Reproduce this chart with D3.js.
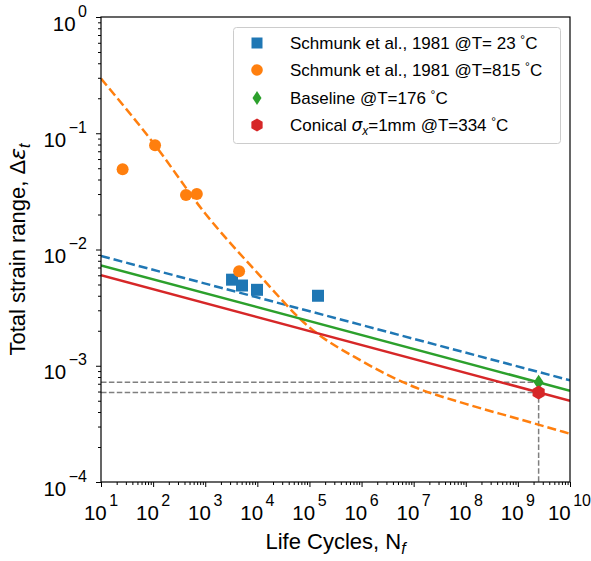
<!DOCTYPE html>
<html>
<head>
<meta charset="utf-8">
<script src="https://cdn.jsdelivr.net/npm/d3@7"></script>
<style>
body { margin: 0; background: #fff; }
text { font-family: "Liberation Sans", Arial, sans-serif; fill: #000; }
</style>
</head>
<body>
<div id="chart"></div>
<script>
// data
var schmunk23N = [3270, 5080, 9860, 146000];
var schmunk23Eps = [0.0055, 0.0049, 0.0045, 0.0040];
var schmunk815N = [26, 109, 428, 690, 4470];
var schmunk815Eps = [0.049, 0.079, 0.0294, 0.030, 0.0065];

var lineN = [1e1, 1e10];
var fit23Eps = [0.0088, 0.00075];
var baselineEps = [0.0073, 0.00061];
var conicalEps = [0.0060, 0.00050];

var fit815N = [1e1, 1e2, 1e3, 1e4, 1e5, 1e6, 1e7, 1e8, 1e9, 1e10];
var fit815Eps = [0.295, 0.083, 0.0204, 0.0063, 0.00214, 0.00110, 0.00066, 0.00047, 0.00035, 0.00026];

var pointN = 2.5e9;
var baselinePt = 0.00072;
var conicalPt = 0.00059;

var xMajor = [1e1, 1e2, 1e3, 1e4, 1e5, 1e6, 1e7, 1e8, 1e9, 1e10];
var yMajor = [1e-4, 1e-3, 1e-2, 1e-1, 1e0];
var xExp = ["1", "2", "3", "4", "5", "6", "7", "8", "9", "10"];
var yExp = ["\u22124", "\u22123", "\u22122", "\u22121", "0"];

var width = 591, height = 561;
var pLeft = 101, pTop = 17, pRight = 570, pBottom = 482;

var colors = { blue: "#1f77b4", orange: "#ff7f0e", green: "#2ca02c", red: "#d62728" };

var svg = d3.select("#chart").append("svg")
    .attr("width", width)
    .attr("height", height);

var x = d3.scaleLog().domain([1e1, 1e10]).range([pLeft, pRight]);
var y = d3.scaleLog().domain([1e-4, 1e0]).range([pBottom, pTop]);

// minor ticks 2..9 in each decade
function minors(lo, hi) {
  var out = [];
  for (var e = lo; e < hi; e++) {
    for (var k = 2; k <= 9; k++) out.push(k * Math.pow(10, e));
  }
  return out;
}

var plot = svg.append("g");

plot.append("clipPath").attr("id", "clip")
  .append("rect").attr("x", pLeft).attr("y", pTop)
  .attr("width", pRight - pLeft).attr("height", pBottom - pTop);

var g = plot.append("g").attr("clip-path", "url(#clip)");

var line = d3.line().x(function(d) { return x(d[0]); }).y(function(d) { return y(d[1]); });

// gray guide lines
g.append("path")
  .attr("d", line([[1e1, baselinePt], [pointN, baselinePt]]))
  .attr("fill", "none").attr("stroke", "#7f7f7f").attr("stroke-width", 1.5)
  .attr("stroke-dasharray", "5.5,2.4");
g.append("path")
  .attr("d", line([[1e1, conicalPt], [pointN, conicalPt], [pointN, 1e-4]]))
  .attr("fill", "none").attr("stroke", "#7f7f7f").attr("stroke-width", 1.5)
  .attr("stroke-dasharray", "5.5,2.4");

// fits
g.append("path")
  .attr("d", line(lineN.map(function(n, i) { return [n, fit23Eps[i]]; })))
  .attr("fill", "none").attr("stroke", colors.blue).attr("stroke-width", 2.5)
  .attr("stroke-dasharray", "9,4");
g.append("path")
  .attr("d", line.curve(d3.curveMonotoneX)(fit815N.map(function(n, i) { return [n, fit815Eps[i]]; })))
  .attr("fill", "none").attr("stroke", colors.orange).attr("stroke-width", 2.5)
  .attr("stroke-dasharray", "9,4");
line.curve(d3.curveLinear);
g.append("path")
  .attr("d", line(lineN.map(function(n, i) { return [n, baselineEps[i]]; })))
  .attr("fill", "none").attr("stroke", colors.green).attr("stroke-width", 2.5);
g.append("path")
  .attr("d", line(lineN.map(function(n, i) { return [n, conicalEps[i]]; })))
  .attr("fill", "none").attr("stroke", colors.red).attr("stroke-width", 2.5);

// marker shapes
function diamondPath(w, h) {
  return "M0," + (-h / 2) + "L" + (w / 2) + ",0L0," + (h / 2) + "L" + (-w / 2) + ",0Z";
}
function hexPath(r) {
  var p = [];
  for (var i = 0; i < 6; i++) {
    var a = -Math.PI / 2 + i * Math.PI / 3;
    p.push([r * Math.cos(a), r * Math.sin(a)]);
  }
  return "M" + p.join("L") + "Z";
}
function squarePath(s) {
  return "M" + (-s / 2) + "," + (-s / 2) + "h" + s + "v" + s + "h" + (-s) + "Z";
}

g.selectAll(".sq").data(schmunk23N).enter().append("path")
  .attr("d", squarePath(12))
  .attr("transform", function(d, i) { return "translate(" + x(d) + "," + y(schmunk23Eps[i]) + ")"; })
  .attr("fill", colors.blue);

g.selectAll(".ci").data(schmunk815N).enter().append("circle")
  .attr("cx", function(d) { return x(d); })
  .attr("cy", function(d, i) { return y(schmunk815Eps[i]); })
  .attr("r", 6)
  .attr("fill", colors.orange);

g.append("path").attr("d", diamondPath(10, 15))
  .attr("transform", "translate(" + x(pointN) + "," + y(baselinePt) + ")")
  .attr("fill", colors.green);
g.append("path").attr("d", hexPath(7))
  .attr("transform", "translate(" + x(pointN) + "," + y(conicalPt) + ")")
  .attr("fill", colors.red);

// spines
plot.append("rect").attr("x", pLeft).attr("y", pTop)
  .attr("width", pRight - pLeft).attr("height", pBottom - pTop)
  .attr("fill", "none").attr("stroke", "#000").attr("stroke-width", 1.2);

// axes
var xAxis = svg.append("g").attr("transform", "translate(0," + pBottom + ")")
  .call(d3.axisBottom(x).tickValues(xMajor).tickSize(5).tickFormat(""));
var xMinor = svg.append("g").attr("transform", "translate(0," + pBottom + ")")
  .call(d3.axisBottom(x).tickValues(minors(1, 10)).tickSize(3).tickFormat(""));
var yAxis = svg.append("g").attr("transform", "translate(" + pLeft + ",0)")
  .call(d3.axisLeft(y).tickValues(yMajor).tickSize(5).tickFormat(""));
var yMinor = svg.append("g").attr("transform", "translate(" + pLeft + ",0)")
  .call(d3.axisLeft(y).tickValues(minors(-4, 0)).tickSize(3).tickFormat(""));

[xAxis, xMinor, yAxis, yMinor].forEach(function(a) {
  a.select(".domain").remove();
  a.selectAll("line").attr("stroke", "#000").attr("stroke-width", 1);
});

// tick labels "10" + superscript, measured so the pair sits where matplotlib puts it
var baseSize = 20.5, supSize = 16, supRaise = 14, supGap = 2.5;

function powerLabel(exp) {
  var gl = svg.append("g");
  var base = gl.append("text").attr("font-size", baseSize).text("10");
  var sup = gl.append("text").attr("font-size", supSize).attr("y", -supRaise).text(exp);
  var wb = base.node().getComputedTextLength();
  var ws = sup.node().getComputedTextLength();
  sup.attr("x", wb + supGap);
  return { g: gl, w: wb + supGap + ws };
}

xMajor.forEach(function(v, i) {
  var lab = powerLabel(xExp[i]);
  var x0 = Math.min(x(v) - lab.w / 2, width - lab.w);
  lab.g.attr("transform", "translate(" + x0 + "," + (pBottom + 38) + ")");
});

yMajor.forEach(function(v, i) {
  var lab = powerLabel(yExp[i]);
  lab.g.attr("transform", "translate(" + (pLeft - 14 - lab.w) + "," + (y(v) + 13.7) + ")");
});

// axis titles
var xl = svg.append("text")
  .attr("x", (pLeft + pRight) / 2).attr("y", 549)
  .attr("text-anchor", "middle").attr("font-size", 22);
xl.append("tspan").text("Life Cycles, N");
xl.append("tspan").attr("dy", 5).attr("font-size", 16).attr("font-style", "italic").text("f");

var yl = svg.append("text")
  .attr("transform", "translate(25," + ((pTop + pBottom) / 2) + ") rotate(-90)")
  .attr("text-anchor", "middle").attr("font-size", 22);
yl.append("tspan").text("Total strain range, \u0394");
yl.append("tspan").attr("font-style", "italic").attr("font-family", "DejaVu Sans").text("\u03b5");
yl.append("tspan").attr("dy", 5).attr("font-size", 16).attr("font-style", "italic").text("t");

// legend
var legend = svg.append("g");
legend.append("rect")
  .attr("x", 233.5).attr("y", 27.5).attr("width", 327).attr("height", 116)
  .attr("rx", 3).attr("fill", "#fff").attr("fill-opacity", 0.85)
  .attr("stroke", "#cccccc").attr("stroke-width", 1);

var legendRows = [43, 70, 98, 125];
var legendMarkerX = 257, legendTextX = 290;

legend.append("path").attr("d", squarePath(11))
  .attr("transform", "translate(" + legendMarkerX + "," + legendRows[0] + ")").attr("fill", colors.blue);
legend.append("circle").attr("cx", legendMarkerX).attr("cy", legendRows[1]).attr("r", 5.8).attr("fill", colors.orange);
legend.append("path").attr("d", diamondPath(9, 14))
  .attr("transform", "translate(" + legendMarkerX + "," + legendRows[2] + ")").attr("fill", colors.green);
legend.append("path").attr("d", hexPath(6.5))
  .attr("transform", "translate(" + legendMarkerX + "," + legendRows[3] + ")").attr("fill", colors.red);

var legendLabels = ["Schmunk et al., 1981 @T= 23 ", "Schmunk et al., 1981 @T=815 ", "Baseline @T=176 "];
function degC(t) {
  t.append("tspan").attr("dy", -5).attr("font-size", 12).text("\u00b0");
  t.append("tspan").attr("dy", 5).text("C");
}
legendLabels.forEach(function(s, i) {
  var t = legend.append("text").attr("x", legendTextX).attr("y", legendRows[i] + 6)
    .attr("font-size", 17);
  t.append("tspan").text(s);
  degC(t);
});
var lt = legend.append("text").attr("x", legendTextX).attr("y", legendRows[3] + 6).attr("font-size", 17);
lt.append("tspan").text("Conical ");
lt.append("tspan").attr("font-style", "italic").attr("font-family", "DejaVu Sans").text("\u03c3");
lt.append("tspan").attr("dy", 4).attr("font-size", 12).attr("font-style", "italic").text("x");
lt.append("tspan").attr("dy", -4).text("=1mm @T=334 ");
degC(lt);
</script>
</body>
</html>
